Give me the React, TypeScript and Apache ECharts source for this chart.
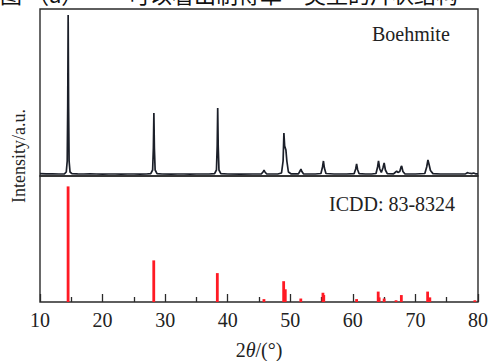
import React, { useEffect, useRef } from "react";
import * as echarts from "echarts";

// Measured XRD profile of the boehmite sample: [2θ (°), intensity (a.u.)]
const XRD_PROFILE: [number, number][] = [
  [10.0, 24], [11.0, 22], [12.0, 21], [13.0, 20], [13.9, 22], [14.2, 40], [14.35, 150], [14.43, 700],
  [14.5, 1610], [14.57, 700], [14.65, 150], [14.8, 40], [15.1, 24], [16, 21], [17, 20], [18, 21],
  [19, 20], [20, 19], [21, 20], [22, 20], [23, 19], [24, 20], [25, 20], [26, 19], [27, 20],
  [27.7, 23], [28.0, 60], [28.12, 280], [28.2, 630], [28.28, 280], [28.4, 60], [28.7, 24],
  [29.5, 20], [31, 19], [32, 20], [33, 20], [34, 19], [35, 20], [36, 20], [37, 20],
  [37.9, 23], [38.2, 60], [38.32, 300], [38.4, 680], [38.48, 300], [38.6, 60], [38.9, 24],
  [40, 20], [42, 19], [44, 20], [45.4, 22], [45.7, 45], [45.8, 60], [45.95, 40], [46.2, 22],
  [47, 20], [48, 20], [48.6, 30], [48.85, 150], [48.98, 430], [49.1, 300], [49.3, 260], [49.45, 150],
  [49.7, 40], [50.1, 22], [51.3, 22], [51.6, 55], [51.7, 70], [51.85, 45], [52.1, 22], [53, 20],
  [54, 20], [54.9, 25], [55.15, 90], [55.3, 150], [55.45, 80], [55.7, 25], [57, 20], [58, 20],
  [59, 20], [60.2, 23], [60.45, 70], [60.6, 120], [60.75, 65], [61, 23], [62, 20], [63, 20],
  [63.7, 25], [63.95, 90], [64.1, 150], [64.3, 70], [64.55, 35], [64.8, 80], [65.0, 130], [65.2, 60],
  [65.5, 24], [66.5, 21], [66.85, 40], [67.0, 50], [67.2, 35], [67.5, 45], [67.7, 90], [67.8, 100],
  [68.0, 45], [68.3, 22], [69, 20], [70, 20], [71.5, 25], [71.8, 90], [72.0, 160], [72.2, 110],
  [72.4, 55], [72.8, 24], [74, 20], [75, 20], [76, 20], [77, 20], [78, 21], [78.3, 33],
  [78.5, 30], [79, 24], [79.3, 30], [79.6, 22], [80, 21],
];

// ICDD 83-8324 reference lines
const ICDD_2THETA = [14.49, 28.18, 38.34, 45.79, 48.94, 49.2, 51.68, 55.22, 55.35, 60.6, 64.05, 64.2, 65.0, 66.9, 67.75, 71.95, 72.3, 79.5];
const ICDD_INTENSITY = [100, 36, 25, 2.5, 18, 11, 3, 8, 6, 2.5, 9, 4, 3, 1.5, 6, 9, 4, 1.5];

const X_TICKS = [10, 20, 30, 40, 50, 60, 70, 80];

const SERIF = "Liberation Serif";
const FRAME = "#2a2a2a";

export default function App() {
  const ref = useRef<HTMLDivElement>(null);

  useEffect(() => {
    if (!ref.current) return;
    const chart = echarts.init(ref.current, null, { renderer: "svg" });
    const xMin = X_TICKS[0];
    const xMax = X_TICKS[X_TICKS.length - 1];
    const option: echarts.EChartsCoreOption = {
      animation: false,
      backgroundColor: "#ffffff",
      grid: [
        { left: 40, right: 16, top: 9, height: 167, show: true, borderColor: FRAME, borderWidth: 1.4, backgroundColor: "transparent" },
        { left: 40, right: 16, top: 176, height: 133, show: true, borderColor: FRAME, borderWidth: 1.4, backgroundColor: "transparent" },
      ],
      xAxis: [
        {
          type: "value", gridIndex: 0, min: xMin, max: xMax, interval: 10,
          axisLine: { show: false }, axisTick: { show: false }, axisLabel: { show: false }, splitLine: { show: false },
        },
        {
          type: "value", gridIndex: 1, min: xMin, max: xMax, interval: 10,
          axisLine: { show: false },
          axisTick: { show: true, inside: true, length: 8, lineStyle: { color: FRAME, width: 1.3 } },
          minorTick: { show: true, splitNumber: 2, length: 5, lineStyle: { color: FRAME, width: 1.3 } },
          axisLabel: { color: "#222", fontFamily: SERIF, fontSize: 20, margin: 8 },
          splitLine: { show: false },
          name: "2{i|θ}/(°)",
          nameLocation: "middle",
          nameGap: 38,
          nameTextStyle: {
            color: "#222", fontFamily: SERIF, fontSize: 20,
            rich: { i: { fontStyle: "italic", fontFamily: SERIF, fontSize: 20, color: "#222" } },
          },
        },
      ],
      yAxis: [
        { type: "value", gridIndex: 0, min: 0, max: 1670, show: false },
        { type: "value", gridIndex: 1, min: 0, max: 109, show: false },
      ],
      series: [
        {
          type: "line", xAxisIndex: 0, yAxisIndex: 0, data: XRD_PROFILE, showSymbol: false,
          lineStyle: { color: "#1b1f29", width: 1.7 }, z: 3,
        },
        {
          type: "bar", xAxisIndex: 1, yAxisIndex: 1,
          data: ICDD_2THETA.map((x, i) => [x, ICDD_INTENSITY[i]]),
          barWidth: 2.8, itemStyle: { color: "#ff1a24" }, z: 3,
        },
      ],
      graphic: [
        { type: "text", left: 372, top: 24, style: { text: "Boehmite", fontFamily: SERIF, fontSize: 20, fill: "#222" } },
        { type: "text", left: 329, top: 194, style: { text: "ICDD: 83-8324", fontFamily: SERIF, fontSize: 20, fill: "#222" } },
        {
          type: "text", x: 19, y: 156, rotation: Math.PI / 2,
          style: { text: "Intensity/a.u.", fontFamily: SERIF, fontSize: 18, fill: "#222", align: "center", verticalAlign: "middle" },
        },
        { type: "text", x: 0, y: -18, style: { text: "图 （a）", fontFamily: "Noto Sans CJK SC", fontSize: 22, fill: "#111" } },
        { type: "text", x: 128, y: -18, style: { text: "可以看出制得单一类型的片状结构", fontFamily: "Noto Sans CJK SC", fontSize: 22, fill: "#111" } },
      ],
    };
    chart.setOption(option);
    return () => chart.dispose();
  }, []);

  return <div ref={ref} style={{ position: "fixed", left: 0, top: 0, width: 494, height: 361 }} />;
}
